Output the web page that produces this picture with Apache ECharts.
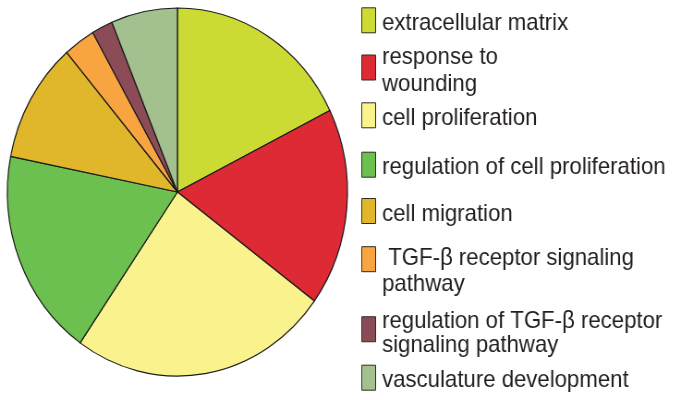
<!DOCTYPE html>
<html>
<head>
<meta charset="utf-8">
<script src="https://cdn.jsdelivr.net/npm/echarts@6/dist/echarts.min.js"></script>
<style>
  html, body { margin: 0; padding: 0; background: #fff; overflow: hidden; }
  #wrap { width: 676px; height: 400px; overflow: hidden; }
  /* the reference image is horizontally compressed (~0.924): draw wider, squeeze */
  #chart { width: 732px; height: 400px; transform: scaleX(0.924); transform-origin: 0 0; }
</style>
</head>
<body>
<div id="wrap"><div id="chart"></div></div>
<script>
// ---- data ----
const categories = [
  'extracellular matrix',
  'response to wounding',
  'cell proliferation',
  'regulation of cell proliferation',
  'cell migration',
  'TGF-β receptor signaling pathway',
  'regulation of TGF-β receptor signaling pathway',
  'vasculature development'
];
const values = [17.7, 17.4, 24.6, 18.4, 10.6, 3.0, 2.0, 6.3];
const labelLines = [
  ['extracellular matrix'],
  ['response to', 'wounding'],
  ['cell proliferation'],
  ['regulation of cell proliferation'],
  ['cell migration'],
  [' TGF-β receptor signaling', 'pathway'],
  ['regulation of TGF-β receptor', 'signaling pathway'],
  ['vasculature development']
];
const colors = ['#cbdb34', '#dd2a35', '#faf28c', '#6cc04f', '#e0b62b', '#f7a441', '#8c4c57', '#a3c08f'];

// ---- layout ----
// legend component top = icon top minus the part of the text sticking out above the icon
const legendTops = [7.3, 45.5, 102.3, 151.7, 198, 246.2, 309.5, 364.7];
const legendPadTop = [6, 7, 6, 6, 6, 24, 8, 6];
const legendLineHeight = [25, 27, 25, 25, 25, 26, 23.5, 25];

const chart = echarts.init(document.getElementById('chart'), null, { renderer: 'canvas' });

const legends = categories.map((name, i) => ({
  data: [name],
  left: 391,
  top: legendTops[i],
  padding: 0,
  orient: 'vertical',
  icon: 'rect',
  itemWidth: 15,
  itemHeight: 25,
  selectedMode: false,
  itemStyle: { borderColor: '#2d2d1e', borderWidth: 1 },
  formatter: () => labelLines[i].map(s => '{t|' + s + '}').join('\n'),
  textStyle: {
    padding: [legendPadTop[i], 0, 0, 2],
    rich: {
      t: {
        fontFamily: '"Liberation Sans", Arial, sans-serif',
        fontSize: 24,
        color: '#231f20',
        lineHeight: legendLineHeight[i]
      }
    }
  }
}));

chart.setOption({
  animation: false,
  backgroundColor: '#ffffff',
  legend: legends,
  series: [{
    type: 'pie',
    center: [192, 192],
    radius: 184,
    startAngle: 90,
    clockwise: true,
    silent: true,
    label: { show: false },
    labelLine: { show: false },
    emphasis: { disabled: true },
    itemStyle: { borderColor: '#1a1a1a', borderWidth: 1.2 },
    data: categories.map((name, i) => ({
      name: name,
      value: values[i],
      itemStyle: { color: colors[i] }
    }))
  }]
});
</script>
</body>
</html>
